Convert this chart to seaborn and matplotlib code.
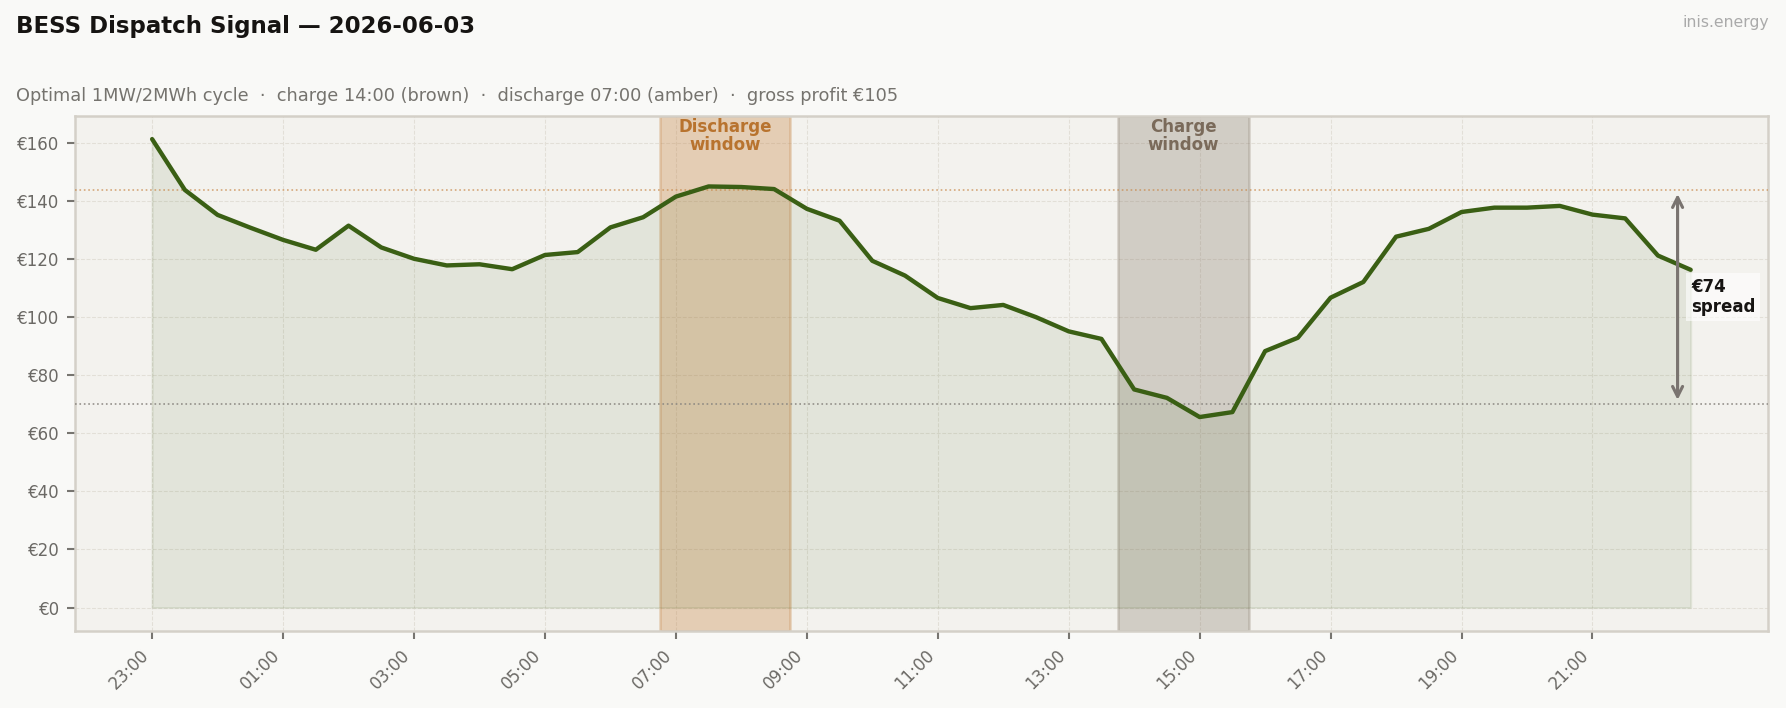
import pandas as pd
import matplotlib.pyplot as plt
import matplotlib.dates as mdates
import matplotlib.ticker as mticker
import seaborn as sns

# データ (30分刻み, 23:00 前日 〜 22:30)
start = '2026-06-02 23:00'
prices = [161.3, 143.8, 135.2, 130.8, 126.6, 123.2, 131.5, 124.0, 120.1, 117.8,
          118.2, 116.5, 121.4, 122.4, 130.9, 134.4, 141.5, 145.0, 144.8, 144.1,
          137.3, 133.2, 119.4, 114.3, 106.6, 103.1, 104.2, 100.0, 95.1, 92.5,
          75.1, 72.2, 65.6, 67.3, 88.3, 92.9, 106.7, 112.1, 127.7, 130.4,
          136.2, 137.7, 137.7, 138.3, 135.3, 134.0, 121.2, 116.3]
discharge_slots = ['07:00', '07:30', '08:00', '08:30']
charge_slots = ['14:00', '14:30', '15:00', '15:30']

title = 'BESS Dispatch Signal — 2026-06-03'
subtitle = ('Optimal 1MW/2MWh cycle  ·  charge 14:00 (brown)  ·  '
            'discharge 07:00 (amber)  ·  gross profit €105')

times = pd.date_range(start, periods=len(prices), freq='30min')
df = pd.DataFrame({'time': times, 'price': prices})
df['slot'] = df['time'].dt.strftime('%H:%M')

dis = df[df['slot'].isin(discharge_slots)]
chg = df[df['slot'].isin(charge_slots)]
dis_mean = dis['price'].mean()
chg_mean = chg['price'].mean()
spread = dis_mean - chg_mean

sns.set_theme(style='white')
plt.rcParams['font.family'] = ['DejaVu Sans']

BG = '#f9f9f7'
AX_BG = '#f3f2ee'
GREEN = '#3a5f14'
AMBER = '#c8884a'
BROWN = '#857868'

fig = plt.figure(figsize=(1786 / 150, 708 / 150), dpi=150, facecolor=BG)
ax = fig.add_axes([0.0421, 0.1088, 0.9476, 0.7278])
ax.set_facecolor(AX_BG)

half = pd.Timedelta(minutes=15)
ax.axvspan(dis['time'].min() - half, dis['time'].max() + half,
           facecolor=AMBER, edgecolor=AMBER, alpha=0.35, lw=1.2, zorder=1)
ax.axvspan(chg['time'].min() - half, chg['time'].max() + half,
           facecolor=BROWN, edgecolor=BROWN, alpha=0.3, lw=1.2, zorder=1)

ax.fill_between(df['time'], 0, df['price'], color=GREEN, alpha=0.09, zorder=2)
sns.lineplot(data=df, x='time', y='price', color=GREEN, lw=2.1, ax=ax, zorder=4)

ax.axhline(dis_mean, color=AMBER, ls=':', lw=0.8, alpha=0.7, zorder=3)
ax.axhline(chg_mean, color='#8a8680', ls=':', lw=0.8, alpha=0.9, zorder=3)

# ウィンドウラベル
ax.text(dis['time'].min() + (dis['time'].max() - dis['time'].min()) / 2, 0.995,
        'Discharge\nwindow', transform=ax.get_xaxis_transform(), ha='center', va='top',
        fontsize=8, fontweight='bold', color='#b8732e', linespacing=1.0)
ax.text(chg['time'].min() + (chg['time'].max() - chg['time'].min()) / 2, 0.995,
        'Charge\nwindow', transform=ax.get_xaxis_transform(), ha='center', va='top',
        fontsize=8, fontweight='bold', color='#7a6a5a', linespacing=1.0)

# スプレッド矢印
x_arr = df['time'].iloc[-1] - pd.Timedelta(minutes=12)
ax.annotate('', xy=(x_arr, chg_mean), xytext=(x_arr, dis_mean),
            arrowprops=dict(arrowstyle='<->', color='#7a7470', lw=1.5), zorder=5)
ax.annotate(f'€{spread:.0f}\nspread', xy=(x_arr, (dis_mean + chg_mean) / 2),
            xytext=(6.5, 0), textcoords='offset points', ha='left', va='center',
            fontsize=8, fontweight='bold', color='#161412', linespacing=1.2,
            bbox=dict(boxstyle='square,pad=0.3', fc='white', ec='none', alpha=0.6), zorder=6)

ax.set_xlabel('')
ax.set_ylabel('')
ax.set_xticks(df['time'].iloc[::4])
ax.xaxis.set_major_formatter(mdates.DateFormatter('%H:%M'))
ax.yaxis.set_major_formatter(mticker.FuncFormatter(lambda v, p: f'€{v:.0f}'))
ax.tick_params(axis='both', colors='#777570', labelcolor='#6b6965', labelsize=8,
               length=4, width=1.0, left=True, bottom=True)
plt.setp(ax.get_xticklabels(), rotation=45, ha='right')
ax.grid(True, color='#e2dfd7', ls='--', lw=0.5)
for s in ax.spines.values():
    s.set_color('#d4d0c8')
    s.set_linewidth(1.2)

fig.text(0.009, 0.953, title, fontsize=11, fontweight='bold', color='#161412', va='baseline')
fig.text(0.009, 0.858, subtitle, fontsize=8.5, color='#75736e', va='baseline')
fig.text(0.9905, 0.962, 'inis.energy', fontsize=7.5, color='#aaaaaa', ha='right', va='baseline')

fig.savefig('out.png', dpi=150, facecolor=BG)
